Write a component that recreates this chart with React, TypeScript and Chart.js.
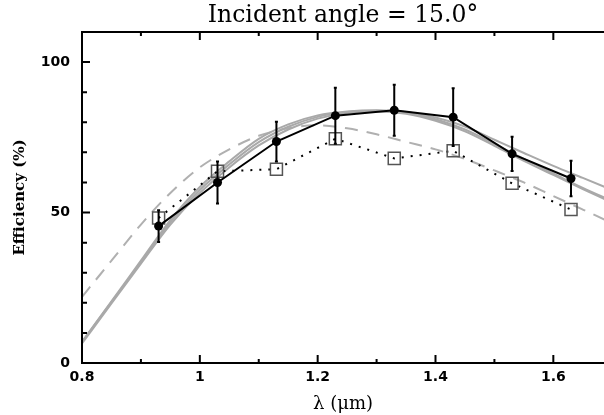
import React, { useEffect, useRef } from "react";
import { Chart, registerables } from "chart.js";

Chart.register(...registerables);

// ---- data ----
const WAVELENGTH = [0.93, 1.03, 1.13, 1.23, 1.33, 1.43, 1.53, 1.63];
const MEASURED = [45.5, 60.0, 73.6, 82.2, 84.0, 81.7, 69.5, 61.3];
const MEASURED_ERR = [5.3, 7.0, 6.6, 9.3, 8.5, 9.6, 5.7, 5.9];
const SQUARES = [48.2, 63.7, 64.4, 74.5, 68.0, 70.5, 59.7, 51.0];

const CURVE_X = [0.8, 0.85, 0.9, 0.95, 1.0, 1.05, 1.1, 1.15, 1.2, 1.25, 1.3, 1.35, 1.4, 1.45, 1.5, 1.55, 1.6, 1.65, 1.7];
const MODEL_A = [7, 20.5, 34, 47.5, 58.5, 67, 74.5, 79.3, 82.3, 83.6, 84, 83.4, 81.6, 78.6, 74.2, 69.8, 65.5, 61.5, 57.5];
const MODEL_B = [7, 20.2, 33.5, 46.8, 57.5, 66, 73.4, 78.5, 81.8, 83.4, 83.8, 83.1, 81, 77.6, 72.8, 67.8, 63, 58.2, 53.8];
const MODEL_C = [6.5, 19.8, 33, 46, 56.5, 65, 72.3, 77.6, 81.2, 83.2, 83.6, 82.8, 80.5, 77, 72.2, 67.2, 62.5, 57.8, 53.3];
const MODEL_DASHED = [22, 34, 46, 56.5, 65, 71, 75.5, 78, 79, 78, 76, 73.5, 71, 67.8, 64, 60, 55.5, 51, 46.5];

const X_LABEL_TICKS = [0.8, 1.0, 1.2, 1.4, 1.6];
const X_MINOR_TICKS = [0.9, 1.1, 1.3, 1.5];
const Y_LABEL_TICKS = [0, 50, 100];
const Y_MINOR_TICKS = [10, 20, 30, 40, 60, 70, 80, 90];

const TITLE = "Incident angle = 15.0°";
const X_TITLE = "λ (μm)";
const Y_TITLE = "Efficiency (%)";

const toXY = (xs: number[], ys: number[]) => xs.map((x, i) => ({ x, y: ys[i] }));

const framePlugin = {
  id: "frame",
  afterDatasetsDraw(chart: any) {
    const { ctx, chartArea, scales } = chart;
    const { left, right, top, bottom } = chartArea;
    const x = scales.x;
    const y = scales.y;
    ctx.save();
    // error bars
    const meta = chart.getDatasetMeta(0);
    ctx.strokeStyle = "#000";
    ctx.lineWidth = 2;
    meta.data.forEach((pt: any, i: number) => {
      const px = pt.x;
      const y1 = y.getPixelForValue(MEASURED[i] + MEASURED_ERR[i]);
      const y2 = y.getPixelForValue(MEASURED[i] - MEASURED_ERR[i]);
      ctx.beginPath();
      ctx.moveTo(px, y1);
      ctx.lineTo(px, y2);
      ctx.moveTo(px - 1.5, y1);
      ctx.lineTo(px + 1.5, y1);
      ctx.moveTo(px - 1.5, y2);
      ctx.lineTo(px + 1.5, y2);
      ctx.stroke();
    });
    // frame
    ctx.lineWidth = 2;
    ctx.lineCap = "square";
    ctx.beginPath();
    ctx.moveTo(right + 2, top);
    ctx.lineTo(left, top);
    ctx.lineTo(left, bottom);
    ctx.lineTo(right + 2, bottom);
    ctx.stroke();
    ctx.lineCap = "butt";
    // inward ticks
    ctx.beginPath();
    const xt = (v: number, len: number) => {
      const px = x.getPixelForValue(v);
      ctx.moveTo(px, bottom);
      ctx.lineTo(px, bottom - len);
      ctx.moveTo(px, top);
      ctx.lineTo(px, top + len);
    };
    X_LABEL_TICKS.forEach((v) => xt(v, 8));
    X_MINOR_TICKS.forEach((v) => xt(v, 4));
    const yt = (v: number, len: number) => {
      const py = y.getPixelForValue(v);
      ctx.moveTo(left, py);
      ctx.lineTo(left + len, py);
    };
    Y_LABEL_TICKS.forEach((v) => yt(v, 8));
    Y_MINOR_TICKS.forEach((v) => yt(v, 5));
    ctx.stroke();
    ctx.restore();
  },
};

export default function App() {
  const ref = useRef<HTMLCanvasElement>(null);

  useEffect(() => {
    if (!ref.current) return;
    const gray = "#a9a9a9";
    const chart = new Chart(ref.current, {
      type: "line",
      data: {
        datasets: [
          {
            label: "measured",
            data: toXY(WAVELENGTH, MEASURED),
            borderColor: "#000",
            backgroundColor: "#000",
            borderWidth: 2,
            pointRadius: 4.5,
            pointStyle: "circle",
            pointBorderWidth: 0,
            order: 1,
          },
          {
            label: "squares",
            data: toXY(WAVELENGTH, SQUARES),
            borderColor: "#000",
            borderWidth: 2,
            borderDash: [2, 7],
            pointStyle: "rect",
            pointRadius: 8.5,
            pointBorderColor: "#555",
            pointBackgroundColor: "rgba(0,0,0,0)",
            pointBorderWidth: 1.5,
            order: 2,
          },
          {
            label: "model A",
            data: toXY(CURVE_X, MODEL_A),
            borderColor: gray,
            borderWidth: 2,
            pointRadius: 0,
            cubicInterpolationMode: "monotone",
            order: 3,
          },
          {
            label: "model B",
            data: toXY(CURVE_X, MODEL_B),
            borderColor: gray,
            borderWidth: 2,
            pointRadius: 0,
            cubicInterpolationMode: "monotone",
            order: 4,
          },
          {
            label: "model C",
            data: toXY(CURVE_X, MODEL_C),
            borderColor: gray,
            borderWidth: 2,
            pointRadius: 0,
            cubicInterpolationMode: "monotone",
            order: 5,
          },
          {
            label: "model dashed",
            data: toXY(CURVE_X, MODEL_DASHED),
            borderColor: "#b0b0b0",
            borderWidth: 2,
            borderDash: [13, 9],
            pointRadius: 0,
            cubicInterpolationMode: "monotone",
            order: 6,
          },
        ],
      },
      options: {
        responsive: false,
        animation: false,
        devicePixelRatio: 1,
        layout: { padding: 0, autoPadding: false },
        plugins: {
          legend: { display: false },
          tooltip: { enabled: false },
          title: {
            display: true,
            text: TITLE,
            fullSize: false,
            color: "#000",
            font: { family: "DejaVu Serif", size: 23.5, weight: "normal" },
            padding: { top: 2, bottom: 1.8 },
          },
        },
        scales: {
          x: {
            type: "linear",
            min: 0.8,
            max: 1.686,
            grid: { display: false, drawTicks: false },
            border: { display: false },
            afterFit: (s: any) => {
              s.height = 52;
              s.paddingLeft = 0;
              s.paddingRight = 0;
            },
            afterBuildTicks: (s: any) => {
              s.ticks = X_LABEL_TICKS.map((value) => ({ value }));
            },
            ticks: {
              color: "#000",
              padding: 6,
              maxRotation: 0,
              autoSkip: false,
              font: { family: "DejaVu Sans", size: 14, weight: "bold" },
              callback: (v: any) => String(+Number(v).toFixed(2)),
            },
            title: {
              display: true,
              text: X_TITLE,
              color: "#000",
              font: { family: "DejaVu Serif", size: 18, weight: "normal" },
              padding: { top: 3, bottom: 0 },
            },
          },
          y: {
            type: "linear",
            min: 0,
            max: 110,
            grid: { display: false, drawTicks: false },
            border: { display: false },
            afterFit: (s: any) => {
              s.width = 82;
              s.paddingTop = 0;
              s.paddingBottom = 0;
            },
            afterBuildTicks: (s: any) => {
              s.ticks = Y_LABEL_TICKS.map((value) => ({ value }));
            },
            ticks: {
              color: "#000",
              padding: 12,
              autoSkip: false,
              font: { family: "DejaVu Sans", size: 14, weight: "bold" },
              callback: (v: any) => String(v),
            },
            title: {
              display: true,
              text: Y_TITLE,
              color: "#000",
              font: { family: "DejaVu Serif", size: 15, weight: "bold" },
              padding: { top: 11, bottom: 0 },
            },
          },
        },
      },
      plugins: [framePlugin],
    });
    return () => chart.destroy();
  }, []);

  return (
    <div style={{ position: "absolute", left: 0, top: 0, width: 604, height: 415, background: "#fff" }}>
      <canvas ref={ref} width={604} height={415} style={{ display: "block" }} />
    </div>
  );
}
